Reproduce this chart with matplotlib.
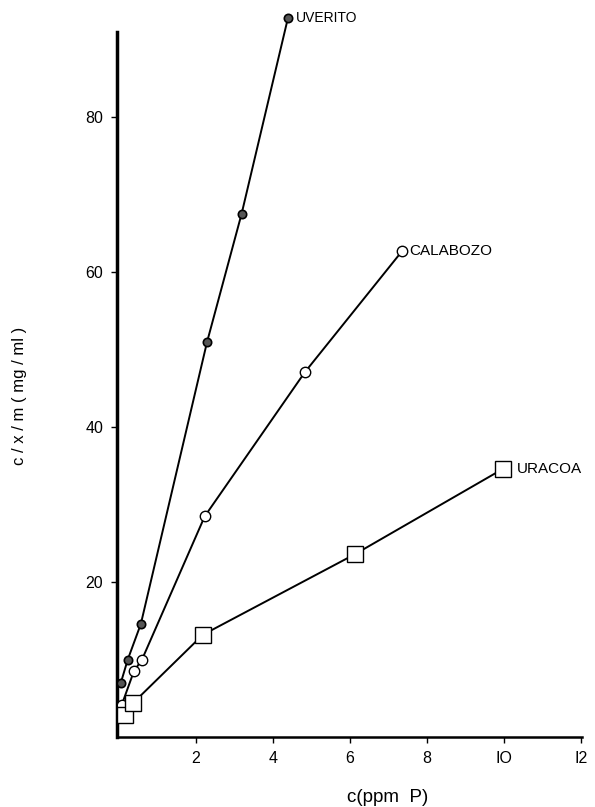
import matplotlib
matplotlib.use("Agg")
import matplotlib.pyplot as plt

plt.rcParams['font.family'] = ['Liberation Sans', 'DejaVu Sans']

# Data
uverito_x = [0.05, 0.23, 0.57, 2.29, 3.19, 4.39]
uverito_y = [7.0, 10.0, 14.6, 51.0, 67.6, 92.8]

calabozo_x = [0.07, 0.39, 0.60, 2.23, 4.83, 7.35]
calabozo_y = [4.1, 8.5, 10.0, 28.5, 47.1, 62.7]

uracoa_x = [0.15, 0.37, 2.18, 6.13, 9.97]
uracoa_y = [2.8, 4.4, 13.2, 23.6, 34.6]

series_names = ["UVERITO", "CALABOZO", "URACOA"]
x_ticks = [2, 4, 6, 8, 10, 12]
x_tick_labels = ["2", "4", "6", "8", "IO", "I2"]
y_ticks = [20, 40, 60, 80]

fig = plt.figure(figsize=(5.95, 8.07), dpi=100)
ax = fig.add_axes([0.1966, 0.0867, 0.978 - 0.1966, 0.960 - 0.0867])

ax.plot(uverito_x, uverito_y, color='black', lw=1.4, marker='o', ms=6,
        mfc='#555555', mec='black', mew=1.2, clip_on=False, zorder=3)
ax.plot(calabozo_x, calabozo_y, color='black', lw=1.4, marker='o', ms=7.5,
        mfc='white', mec='black', mew=1.0, clip_on=False, zorder=3)
ax.plot(uracoa_x, uracoa_y, color='black', lw=1.4, marker='s', ms=11,
        mfc='white', mec='black', mew=1.0, clip_on=False, zorder=3)

label_sizes = {"UVERITO": 10, "CALABOZO": 11, "URACOA": 11}
for name, xs, ys in [(series_names[0], uverito_x, uverito_y),
                     (series_names[1], calabozo_x, calabozo_y),
                     (series_names[2], uracoa_x, uracoa_y)]:
    off = 0.38 if name == "URACOA" else 0.2
    ax.text(xs[-1] + off, ys[-1], name, fontsize=label_sizes[name],
            va='center', ha='left', clip_on=False)

ax.set_xlim(-0.05, 12.03)
ax.set_ylim(0, 91)

for s in ['top', 'right']:
    ax.spines[s].set_visible(False)
ax.spines['left'].set_linewidth(2.5)
ax.spines['bottom'].set_linewidth(1.8)

ax.set_xticks(x_ticks)
ax.set_xticklabels(x_tick_labels)
ax.set_yticks(y_ticks)
ax.tick_params(axis='both', direction='out', length=4, width=1, labelsize=11.5, pad=6)

fig.text(388 / 595, 1 - 797 / 807, "c(ppm  P)", fontsize=13.5,
         ha='center', va='center')
fig.text(20 / 595, 1 - 396 / 807, "c / x / m ( mg / ml )", fontsize=12,
         ha='center', va='center', rotation=90)

fig.savefig("out.png", dpi=100)
